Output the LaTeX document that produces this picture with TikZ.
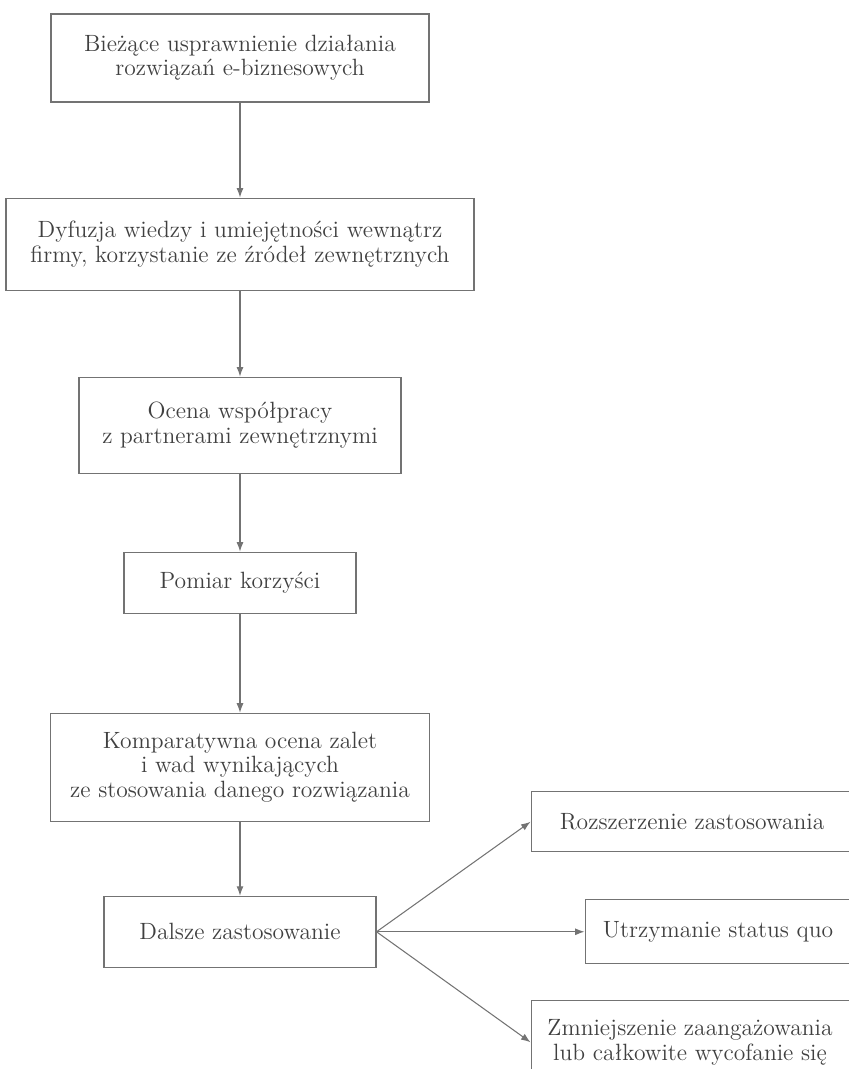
\documentclass[tikz,border=0pt]{standalone}
\usepackage{tikz}
\usepackage{xcolor}
\usetikzlibrary{arrows.meta,calc,positioning}

\begin{document}
\begin{tikzpicture}[>={Latex[length=1.9mm,width=1.4mm]}, every node/.style={align=center},
  box/.style={draw=black!55,line width=0.6pt,text=black!75,inner sep=2pt,
    font=\fontsize{13.4pt}{13.8pt}\selectfont},
  link/.style={->,draw=black!55,line width=0.6pt}]
\useasboundingbox (-4.8,1.16) rectangle (12.18,-20.22);
\clip (-4.8,1.16) rectangle (12.18,-20.22);
% main chain
\node[box,minimum width=7.56cm,minimum height=1.76cm] (b1) {Bieżące usprawnienie działania\\rozwiązań e-biznesowych};
\node[box,minimum width=9.36cm,minimum height=1.84cm,below=1.9cm of b1] (b2) {Dyfuzja wiedzy i umiejętności wewnątrz\\firmy, korzystanie ze źródeł zewnętrznych};
\node[box,minimum width=6.44cm,minimum height=1.92cm,below=1.72cm of b2] (b3) {Ocena współpracy\\z partnerami zewnętrznymi};
\node[box,minimum width=4.64cm,minimum height=1.22cm,below=1.56cm of b3] (b4) {Pomiar korzyści};
\node[box,minimum width=7.58cm,minimum height=2.16cm,below=1.98cm of b4] (b5) {Komparatywna ocena zalet\\i wad wynikających\\ze stosowania danego rozwiązania};
\node[box,minimum width=5.44cm,minimum height=1.42cm,below=1.48cm of b5] (b6) {Dalsze zastosowanie};
% outcomes
\node[box,anchor=west,minimum width=6.44cm,minimum height=1.2cm] (b7) at ($(b6.east)+(3.08,2.2)$) {Rozszerzenie zastosowania};
\node[box,anchor=west,minimum width=5.32cm,minimum height=1.28cm] (b8) at ($(b6.east)+(4.16,0)$) {Utrzymanie status quo};
\node[box,anchor=west,minimum width=6.36cm,minimum height=1.68cm] (b9) at ($(b6.east)+(3.08,-2.21)$) {Zmniejszenie zaangażowania\\lub całkowite wycofanie się};
\draw[link] (b1) -- (b2);
\draw[link] (b2) -- (b3);
\draw[link] (b3) -- (b4);
\draw[link] (b4) -- (b5);
\draw[link] (b5) -- (b6);
\draw[link] (b6.east) -- (b7.west);
\draw[link] (b6.east) -- (b8.west);
\draw[link] (b6.east) -- (b9.west);
\end{tikzpicture}
\end{document}
